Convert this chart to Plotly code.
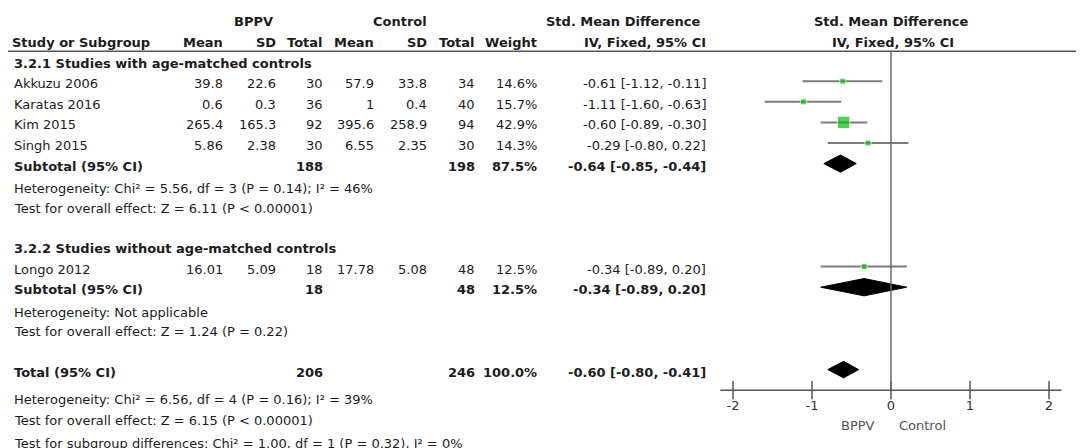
import plotly.graph_objects as go

# ---- data ----
studies = ["Akkuzu 2006", "Karatas 2016", "Kim 2015", "Singh 2015", "Longo 2012"]
study_group = [0, 0, 0, 0, 1]
bppv_mean = [39.8, 0.6, 265.4, 5.86, 16.01]
bppv_sd = [22.6, 0.3, 165.3, 2.38, 5.09]
bppv_n = [30, 36, 92, 30, 18]
ctrl_mean = [57.9, 1, 395.6, 6.55, 17.78]
ctrl_sd = [33.8, 0.4, 258.9, 2.35, 5.08]
ctrl_n = [34, 40, 94, 30, 48]
weight = [14.6, 15.7, 42.9, 14.3, 12.5]
smd = [-0.61, -1.11, -0.60, -0.29, -0.34]
smd_lo = [-1.12, -1.60, -0.89, -0.80, -0.89]
smd_hi = [-0.11, -0.63, -0.30, 0.22, 0.20]

group_names = ["3.2.1 Studies with age-matched controls",
               "3.2.2 Studies without age-matched controls"]
group_bppv_n = [188, 18]
group_ctrl_n = [198, 48]
group_weight = [87.5, 12.5]
group_smd = [-0.64, -0.34]
group_lo = [-0.85, -0.89]
group_hi = [-0.44, 0.20]
group_het = ["Heterogeneity: Chi² = 5.56, df = 3 (P = 0.14); I² = 46%",
             "Heterogeneity: Not applicable"]
group_test = ["Test for overall effect: Z = 6.11 (P &lt; 0.00001)",
              "Test for overall effect: Z = 1.24 (P = 0.22)"]

total_bppv_n = 206
total_ctrl_n = 246
total_weight = 100.0
total_smd = -0.60
total_lo = -0.80
total_hi = -0.41
total_het = "Heterogeneity: Chi² = 6.56, df = 4 (P = 0.16); I² = 39%"
total_test = "Test for overall effect: Z = 6.15 (P &lt; 0.00001)"
subgroup_test = "Test for subgroup differences: Chi² = 1.00, df = 1 (P = 0.32), I² = 0%"

tick_vals = [-2, -1, 0, 1, 2]
tick_text = ["-2", "-1", "0", "1", "2"]

# ---- geometry, in window pixels of the 1084x448 page ----
OFF = 8                       # the page body keeps an 8px margin
W, H = 1084 - OFF, 448 - OFF  # figure size that fills the rest
ROW0, ROW_H = 40.0 - OFF, 20.6
X0_PX, UNIT_PX = 891.0 - OFF, 79.0
TXT_DY = 0.12                 # text sits slightly under the marks
FONT = "DejaVu Sans"
INK = "#1c1c1c"
GREY = "#555555"

COL_NAME = 12
COL_RIGHT = {"bm": 225, "bs": 278, "bn": 325, "cm": 376, "cs": 429,
             "cn": 477, "w": 539, "ci": 708}


def px(x):
    return (x - OFF) / W


fig = go.Figure()
annotations = []


def txt(text, x, row, anchor="left", bold=False, size=13, color=INK):
    annotations.append(dict(
        text=f"<b>{text}</b>" if bold else text,
        x=px(x), xref="paper", y=row + TXT_DY, yref="y",
        xanchor=anchor, yanchor="middle", showarrow=False,
        font=dict(family=FONT, size=size, color=color)))


def ci_text(est, lo, hi):
    return f"{est:.2f} [{lo:.2f}, {hi:.2f}]"


def diamond(est, lo, hi, row, half=0.42):
    fig.add_trace(go.Scatter(
        x=[lo, est, hi, est, lo], y=[row, row - half, row, row + half, row],
        mode="lines", fill="toself", fillcolor="black",
        line=dict(color="black", width=1), hoverinfo="skip"))


# header rows
txt("BPPV", 253, -1.0, "center", bold=True)
txt("Control", 400, -1.0, "center", bold=True)
txt("Std. Mean Difference", 702, -1.0, "right", bold=True)
txt("Std. Mean Difference", 891, -1.0, "center", bold=True)
txt("Study or Subgroup", 10, 0, bold=True)
for key, label in [("bm", "Mean"), ("bs", "SD"), ("bn", "Total"),
                   ("cm", "Mean"), ("cs", "SD"), ("cn", "Total"),
                   ("w", "Weight"), ("ci", "IV, Fixed, 95% CI")]:
    txt(label, COL_RIGHT[key], 0, "right", bold=True)
txt("IV, Fixed, 95% CI", 893, 0, "center", bold=True)

# body rows
row = 1
study_rows = []
for g, gname in enumerate(group_names):
    txt(gname, COL_NAME, row, bold=True)
    row += 1
    for i, name in enumerate(studies):
        if study_group[i] != g:
            continue
        txt(name, COL_NAME, row)
        vals = [bppv_mean[i], bppv_sd[i], bppv_n[i], ctrl_mean[i],
                ctrl_sd[i], ctrl_n[i]]
        for key, v in zip(["bm", "bs", "bn", "cm", "cs", "cn"], vals):
            txt(str(v), COL_RIGHT[key], row, "right")
        txt(f"{weight[i]:.1f}%", COL_RIGHT["w"], row, "right")
        txt(ci_text(smd[i], smd_lo[i], smd_hi[i]), COL_RIGHT["ci"], row, "right")
        study_rows.append(row)
        row += 1
    txt("Subtotal (95% CI)", COL_NAME, row, bold=True)
    txt(str(group_bppv_n[g]), COL_RIGHT["bn"], row, "right", bold=True)
    txt(str(group_ctrl_n[g]), COL_RIGHT["cn"], row, "right", bold=True)
    txt(f"{group_weight[g]:.1f}%", COL_RIGHT["w"], row, "right", bold=True)
    txt(ci_text(group_smd[g], group_lo[g], group_hi[g]), COL_RIGHT["ci"], row,
        "right", bold=True)
    diamond(group_smd[g], group_lo[g], group_hi[g], row)
    txt(group_het[g], COL_NAME, row + 1.1)
    txt(group_test[g], COL_NAME, row + 2.05)
    row += 4

txt("Total (95% CI)", COL_NAME, row, bold=True)
txt(str(total_bppv_n), COL_RIGHT["bn"], row, "right", bold=True)
txt(str(total_ctrl_n), COL_RIGHT["cn"], row, "right", bold=True)
txt(f"{total_weight:.1f}%", COL_RIGHT["w"], row, "right", bold=True)
txt(ci_text(total_smd, total_lo, total_hi), COL_RIGHT["ci"], row, "right",
    bold=True)
diamond(total_smd, total_lo, total_hi, row, half=0.4)
txt(total_het, COL_NAME, row + 1.34)
txt(total_test, COL_NAME, row + 2.36)
txt(subgroup_test, COL_NAME, row + 3.45)
axis_row = row + 1

# study confidence intervals and weighted squares
for i, r in enumerate(study_rows):
    fig.add_trace(go.Scatter(
        x=[smd_lo[i], smd_hi[i]], y=[r, r], mode="lines",
        line=dict(color="#7a7a7a", width=2), hoverinfo="skip"))
fig.add_trace(go.Scatter(
    x=smd, y=study_rows, mode="markers",
    marker=dict(symbol="square", color="#00c400",
                size=[max(6, 0.29 * w) for w in weight]),
    hoverinfo="skip"))

# header rule, zero line, bottom axis with crossing ticks
shapes = [
    dict(type="line", xref="paper", yref="y", x0=px(8), x1=px(1078),
         y0=0.55, y1=0.55, line=dict(color=GREY, width=1.5)),
    dict(type="line", xref="x", yref="y", x0=0, x1=0, y0=0.55, y1=axis_row,
         line=dict(color="#6a6a6a", width=1.5)),
    dict(type="line", xref="x", yref="y", x0=-2.16, x1=2.16,
         y0=axis_row, y1=axis_row, line=dict(color=GREY, width=1.5)),
]
fig.add_trace(go.Scatter(
    x=tick_vals, y=[axis_row] * len(tick_vals), mode="markers",
    marker=dict(symbol="line-ns", size=13, line=dict(color=GREY, width=1.5)),
    hoverinfo="skip"))
fig.add_trace(go.Scatter(
    x=tick_vals, y=[axis_row + 0.82] * len(tick_vals), mode="text",
    text=tick_text, textfont=dict(family=FONT, size=13, color="#333333"),
    hoverinfo="skip"))
annotations.append(dict(text="BPPV", x=-0.18, xref="x", y=axis_row + 1.72,
                        yref="y", xanchor="right", showarrow=False,
                        font=dict(family=FONT, size=13, color=GREY)))
annotations.append(dict(text="Control", x=0.08, xref="x", y=axis_row + 1.72,
                        yref="y", xanchor="left", showarrow=False,
                        font=dict(family=FONT, size=13, color=GREY)))

fig.update_layout(
    width=W, height=H, margin=dict(l=0, r=0, t=0, b=0),
    paper_bgcolor="white", plot_bgcolor="white", showlegend=False,
    xaxis=dict(range=[-X0_PX / UNIT_PX, (W - X0_PX) / UNIT_PX],
               visible=False, fixedrange=True),
    yaxis=dict(range=[(H - ROW0) / ROW_H, -ROW0 / ROW_H],
               visible=False, fixedrange=True),
    annotations=annotations, shapes=shapes)

fig.write_html("out.html")
